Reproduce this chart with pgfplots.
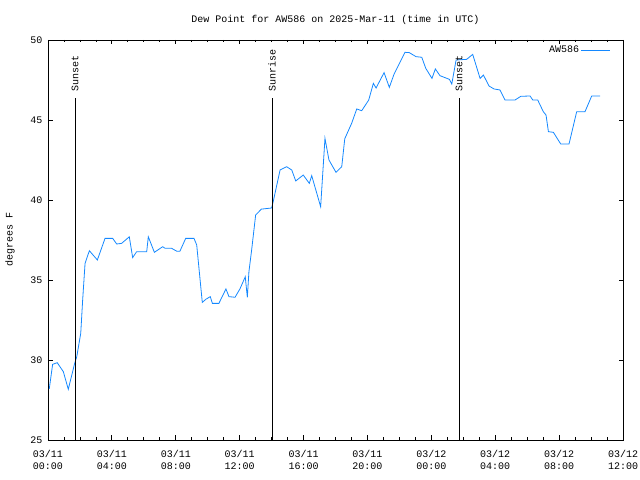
\documentclass[border=0pt]{standalone}
\usepackage{fontspec}
\setmainfont{Liberation Mono}
\usepackage{pgfplots}
\pgfplotsset{compat=1.18}
\definecolor{dewblue}{RGB}{20,136,255}
\begin{document}
\begin{tikzpicture}[x=1bp,y=1bp]
\begin{axis}[
  scale only axis, width=575bp, height=400bp,
  xmin=0, xmax=36, ymin=25, ymax=50,
  font=\fontsize{10bp}{12bp}\selectfont,
  /pgf/number format/assume math mode=true,
  axis line style={line width=0.8bp},
  xtick={0,4,...,36},
  xticklabels={{03/11\\00:00},{03/11\\04:00},{03/11\\08:00},{03/11\\12:00},{03/11\\16:00},{03/11\\20:00},{03/12\\00:00},{03/12\\04:00},{03/12\\08:00},{03/12\\12:00}},
  xticklabel style={align=center, font=\fontsize{10bp}{12bp}\selectfont, yshift=-7bp},
  ytick={25,30,...,50},
  yticklabel style={font=\fontsize{10bp}{12bp}\selectfont, xshift=-2bp},
  minor x tick num=3,
  tick align=inside,
  major tick length=4.5bp, minor tick length=2.5bp,
  tick style={black, line width=0.8bp},
  title={Dew Point for AW586 on 2025-Mar-11 (time in UTC)},
  title style={at={(axis description cs:0.5,1)}, anchor=base, yshift=11.5bp, font=\fontsize{10bp}{12bp}\selectfont},
  ylabel={degrees F},
  ylabel style={at={(axis description cs:-0.066,0.5)}, anchor=center, font=\fontsize{10bp}{12bp}\selectfont},
  legend plot pos=right,
  legend image code/.code={\draw[#1] (5bp,0bp) -- (34bp,0bp);},
  legend style={draw=none, fill=none, at={(axis description cs:1,1)}, anchor=north east, xshift=-9bp, yshift=-2bp, font=\fontsize{10bp}{12bp}\selectfont},
]
\addplot[dewblue, line width=0.8bp, mark=none] coordinates {
(0.08,28.2) (0.29,29.73) (0.58,29.83) (0.96,29.27) (1.27,28.17) (1.67,29.79) (1.8,30.2) (2.05,31.67) (2.17,33.75) (2.32,36.04) (2.59,36.83) (3.09,36.25) (3.57,37.6) (4.05,37.6) (4.3,37.25) (4.61,37.29) (5.09,37.7) (5.3,36.4) (5.55,36.77) (6.18,36.77) (6.28,37.7) (6.66,36.73) (7.18,37.08) (7.33,36.98) (7.74,36.98) (8.06,36.8) (8.26,36.8) (8.62,37.6) (9.14,37.6) (9.31,37.19) (9.66,33.6) (9.89,33.8) (10.16,33.96) (10.29,33.54) (10.7,33.54) (11.14,34.44) (11.33,33.96) (11.71,33.92) (12.02,34.45) (12.35,35.2) (12.48,33.92) (12.58,35.52) (12.75,36.88) (13.0,39.06) (13.36,39.43) (14.0,39.5) (14.1,39.9) (14.53,41.875) (14.94,42.08) (15.26,41.875) (15.51,41.19) (15.98,41.56) (16.36,41.04) (16.51,41.52) (17.07,39.58) (17.34,43.85) (17.59,42.5) (18.03,41.73) (18.39,42.08) (18.58,43.83) (19.01,44.79) (19.33,45.69) (19.64,45.58) (20.08,46.25) (20.37,47.29) (20.54,47.0) (21.04,47.96) (21.37,47.04) (21.66,47.85) (22.35,49.23) (22.62,49.21) (23.04,48.96) (23.4,48.92) (23.65,48.23) (24.04,47.6) (24.25,48.19) (24.54,47.77) (25.13,47.54) (25.28,47.25) (25.55,48.75) (26.21,48.79) (26.59,49.1) (27.05,47.6) (27.26,47.81) (27.61,47.125) (27.92,46.94) (28.3,46.875) (28.61,46.25) (29.24,46.25) (29.6,46.48) (30.18,46.5) (30.35,46.25) (30.66,46.25) (31.01,45.52) (31.18,45.31) (31.33,44.27) (31.64,44.23) (32.1,43.5) (32.62,43.5) (33.1,45.52) (33.62,45.52) (34.04,46.5) (34.56,46.5)
};
\addlegendentry{AW586}
\draw[black, line width=0.8bp] (axis cs:1.69,25) -- (axis cs:1.69,46.35);
\node[rotate=90, anchor=west, inner sep=0pt, font=\fontsize{10bp}{12bp}\selectfont] at (axis cs:1.69,46.75) {Sunset};
\draw[black, line width=0.8bp] (axis cs:14.02,25) -- (axis cs:14.02,46.35);
\node[rotate=90, anchor=west, inner sep=0pt, font=\fontsize{10bp}{12bp}\selectfont] at (axis cs:14.02,46.75) {Sunrise};
\draw[black, line width=0.8bp] (axis cs:25.74,25) -- (axis cs:25.74,46.35);
\node[rotate=90, anchor=west, inner sep=0pt, font=\fontsize{10bp}{12bp}\selectfont] at (axis cs:25.74,46.75) {Sunset};
\coordinate (BL) at (rel axis cs:0,0);
\end{axis}
\pgfresetboundingbox
\path[use as bounding box] (BL) ++(-48,-40) rectangle ++(640,480);
\end{tikzpicture}
\end{document}
